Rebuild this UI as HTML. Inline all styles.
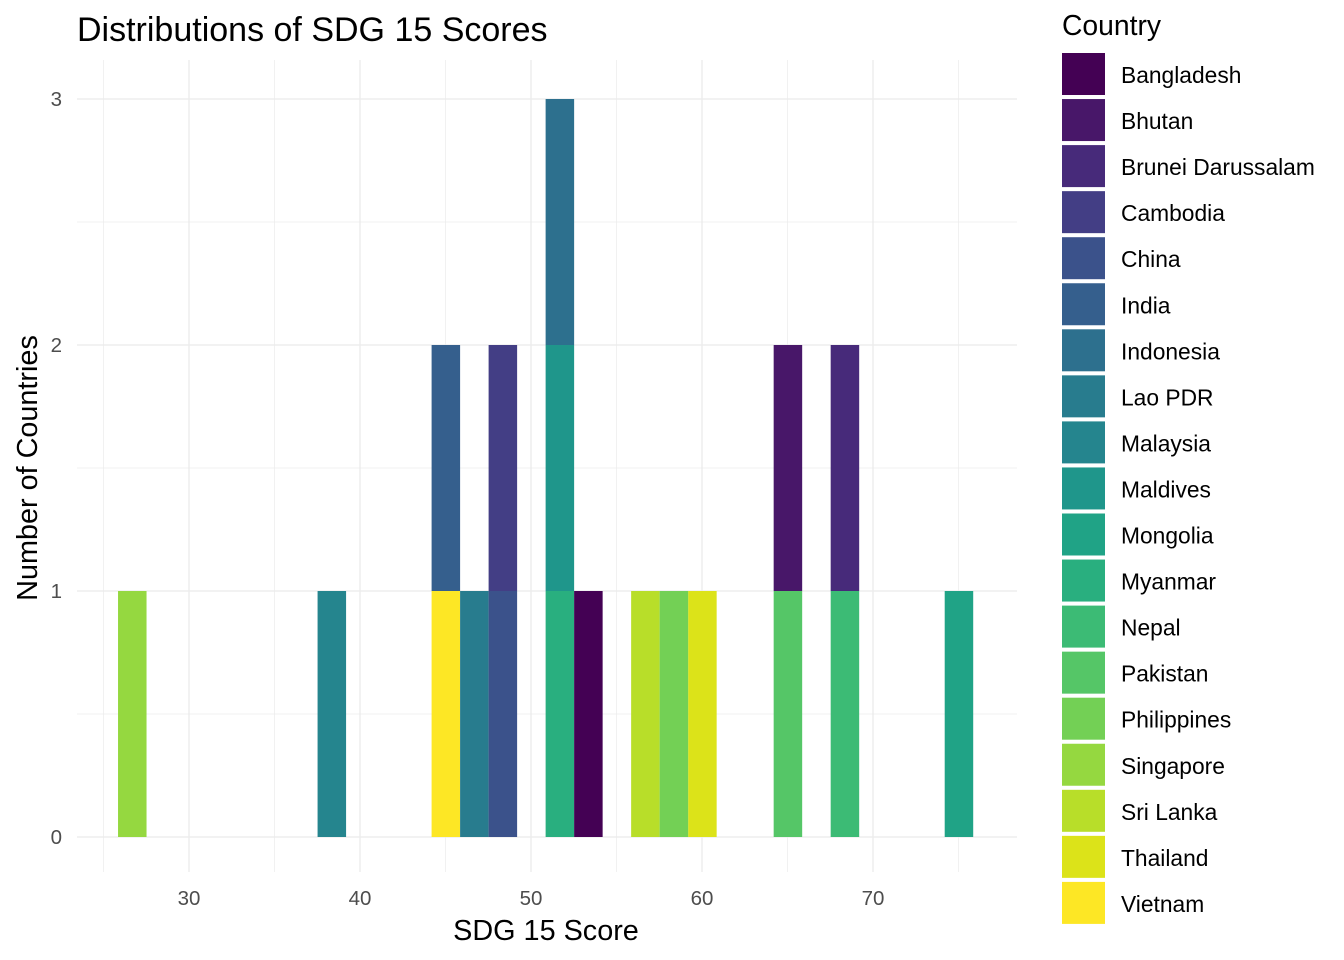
<!DOCTYPE html>
<html><head><meta charset="utf-8"><style>
body{margin:0;background:#fff;}
svg{display:block;font-family:"Liberation Sans",Arial,sans-serif;}
</style></head><body>
<svg id="chart" width="1344" height="960" viewBox="0 0 1344 960"></svg>
<script>
const countries=["Bangladesh","Bhutan","Brunei Darussalam","Cambodia","China","India","Indonesia","Lao PDR","Malaysia","Maldives","Mongolia","Myanmar","Nepal","Pakistan","Philippines","Singapore","Sri Lanka","Thailand","Vietnam"];
const scores=[53.39,65.06,68.39,48.39,48.39,45.06,51.73,46.73,38.39,51.73,75.06,51.73,68.39,65.06,58.39,26.70,56.73,60.06,45.06];
const colors=["#440154","#481769","#472A7A","#433E85","#3B528B","#355F8D","#2D708E","#287C8E","#25858E","#1F968B","#20A386","#29AF7F","#3CBB75","#55C667","#73D055","#95D840","#B8DE29","#DCE319","#FDE725"];
const xTicks=[30,40,50,60,70];
const yTicks=[0,1,2,3];
const binStart=25.85, binW=1.667;

const NS="http://www.w3.org/2000/svg";
const svg=document.getElementById('chart');
function mk(tag,attrs,parent){const e=document.createElementNS(NS,tag);for(const k in attrs)e.setAttribute(k,attrs[k]);(parent||svg).appendChild(e);return e;}
const X=v=>189+(v-30)*17.1;
const Y=c=>837-c*246;
const L=77,R=1017,T=60,B=872;

for(let v=25;v<=75;v+=10){const l=mk('line',{x1:X(v),x2:X(v),y1:T,y2:B,stroke:'#ebebeb','stroke-width':0.7});
}
for(let c=0.5;c<3.3;c+=1){const l=mk('line',{x1:L,x2:R,y1:Y(c),y2:Y(c),stroke:'#ebebeb','stroke-width':0.7});
}
xTicks.forEach(v=>{const l=mk('line',{x1:X(v),x2:X(v),y1:T,y2:B,stroke:'#ebebeb','stroke-width':1.3});

const t=mk('text',{x:X(v),y:905,'text-anchor':'middle','font-size':20.5,fill:'#4d4d4d'});t.textContent=v;
});
yTicks.forEach(c=>{const l=mk('line',{x1:L,x2:R,y1:Y(c),y2:Y(c),stroke:'#ebebeb','stroke-width':1.3});

const t=mk('text',{x:62,y:Y(c)+7,'text-anchor':'end','font-size':20.5,fill:'#4d4d4d'});t.textContent=c;
});

const stackH={};
for(let i=countries.length-1;i>=0;i--){
  const b=Math.floor((scores[i]-binStart)/binW);
  const h=stackH[b]||0;
  const x0=binStart+b*binW;
  const r=mk('rect',{x:X(x0),y:Y(h+1),width:X(x0+binW)-X(x0),height:Y(h)-Y(h+1),fill:colors[i]});
  
  
  stackH[b]=h+1;
}

let t=mk('text',{x:77,y:41,'font-size':34,fill:'#000'});t.textContent='Distributions of SDG 15 Scores';

t=mk('text',{x:546,y:940,'text-anchor':'middle','font-size':28.8,fill:'#000'});t.textContent='SDG 15 Score';

t=mk('text',{x:0,y:0,'text-anchor':'middle','font-size':28.8,fill:'#000',transform:'translate(37,468) rotate(-90)'});t.textContent='Number of Countries';


t=mk('text',{x:1062,y:35,'font-size':28.3,fill:'#000'});t.textContent='Country';

countries.forEach((c,i)=>{
  const y=53+i*46.05;
  const r=mk('rect',{x:1062,y:y,width:43,height:42,fill:colors[i]});
  
  const tt=mk('text',{x:1121,y:y+30,'font-size':22.8,fill:'#000'});tt.textContent=c;
  
});
</script>
</body></html>
